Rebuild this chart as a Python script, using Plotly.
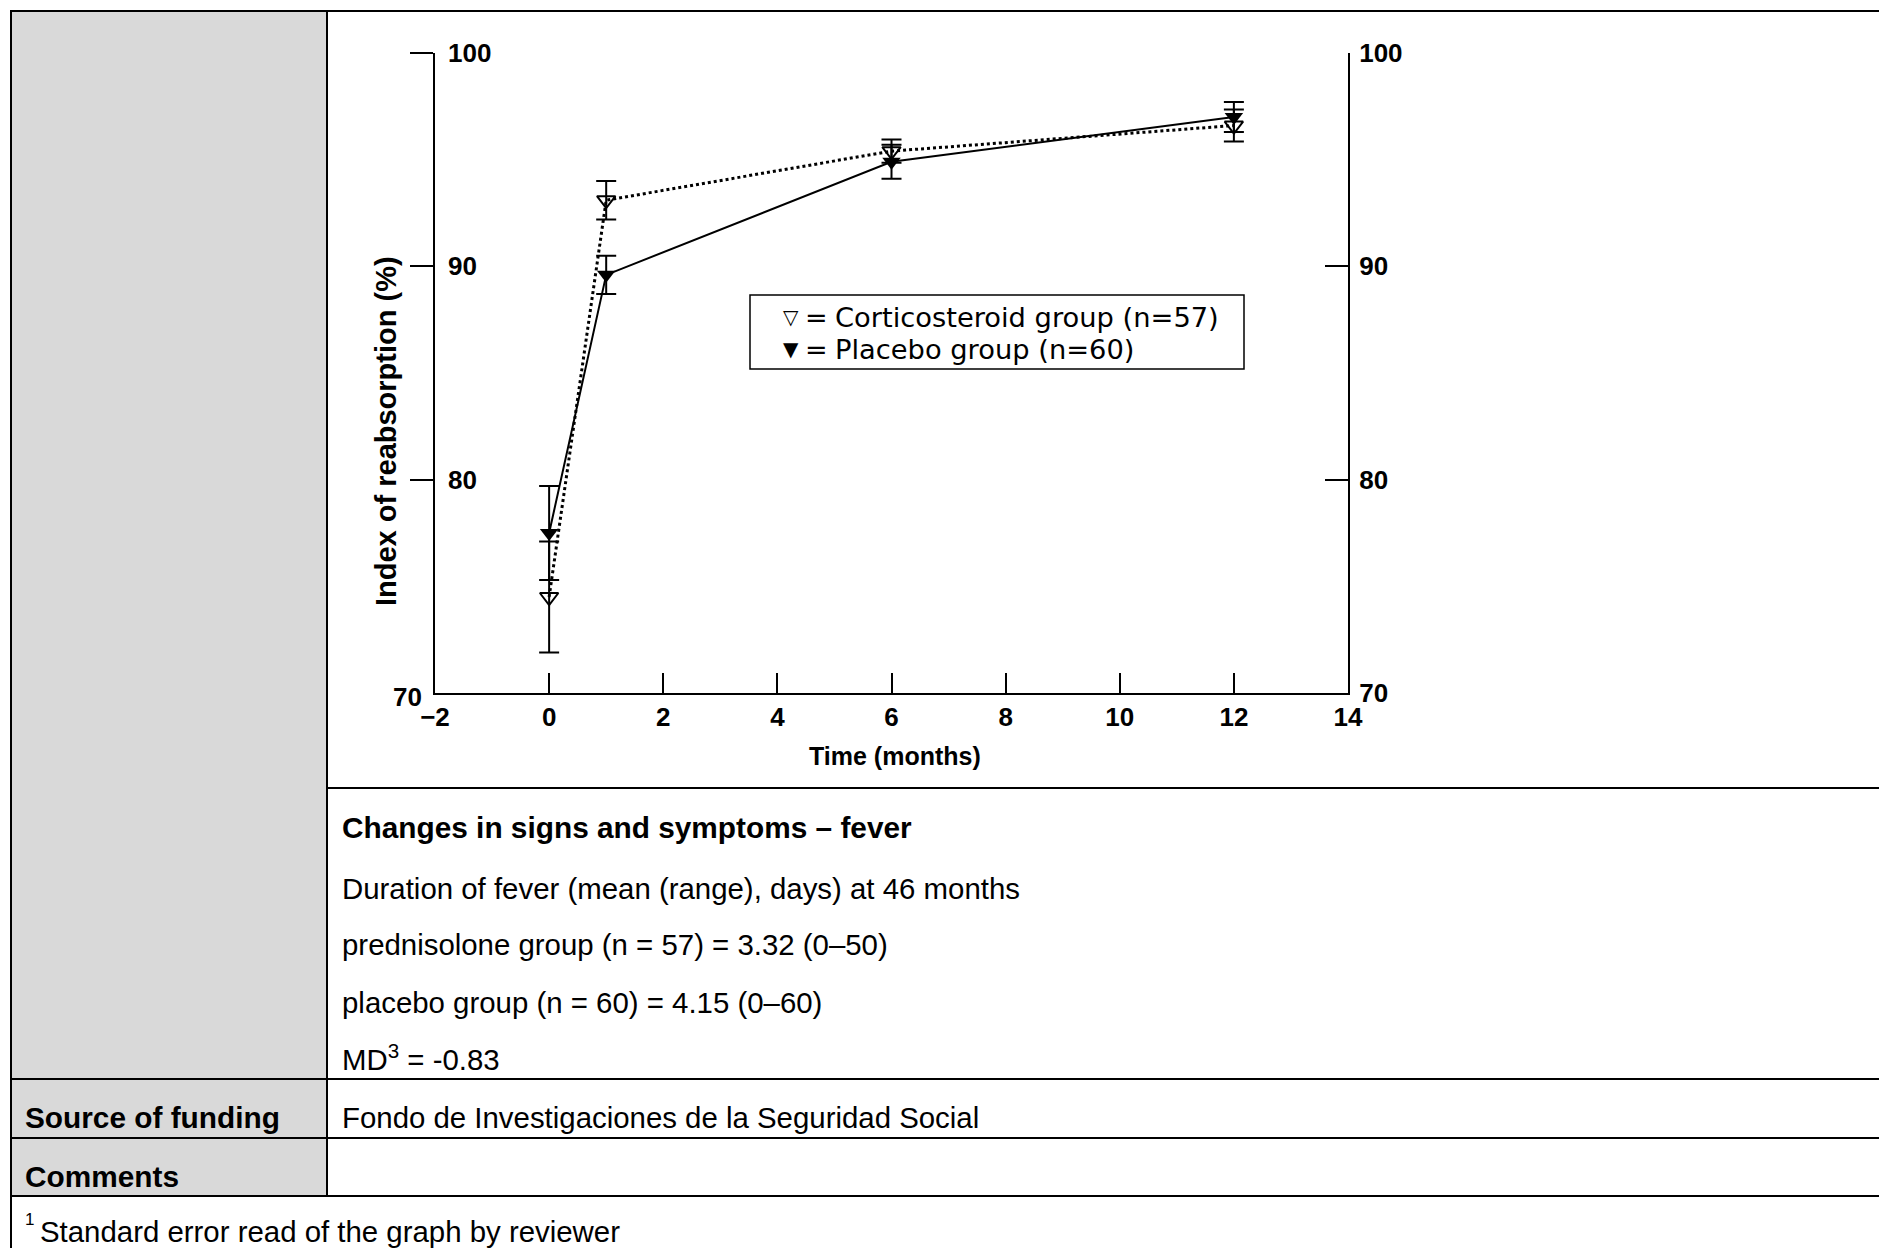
import plotly.graph_objects as go

W, H = 1879, 1248

# ---------------- data ----------------
months = [0, 1, 6, 12]
cortico_mean = [74.5, 93.1, 95.4, 96.6]
cortico_se = [2.6, 0.9, 0.55, 0.75]
placebo_mean = [77.5, 89.6, 94.9, 97.0]
placebo_se = [2.2, 0.9, 0.8, 0.7]
x_ticks = [-2, 0, 2, 4, 6, 8, 10, 12, 14]
y_ticks_left = [80, 90, 100]
y_ticks_right = [70, 80, 90, 100]

legend_labels = ["Corticosteroid group (n=57)", "Placebo group (n=60)"]
legend_symbols = ["▽", "▼"]

table_rows = [
    ("Changes in signs and symptoms – fever", True),
    ("Duration of fever (mean (range), days) at 46 months", False),
    ("prednisolone group (n = 57) = 3.32 (0–50)", False),
    ("placebo group (n = 60) = 4.15 (0–60)", False),
]
md_text = "MD<sup>3</sup> = -0.83"
funding_label = "Source of funding"
funding_text = "Fondo de Investigaciones de la Seguridad Social"
comments_label = "Comments"
footnote = "Standard error read of the graph by reviewer"

FONT = "Liberation Sans, Arial, Helvetica, sans-serif"
LEGFONT = "DejaVu Sans, Liberation Sans, sans-serif"


def px(x):
    return x / W


def py(y):
    return 1 - y / H


fig = go.Figure()

fig.add_trace(go.Scatter(
    x=months, y=cortico_mean, mode="lines+markers", name=legend_labels[0],
    line=dict(color="black", width=3, dash="dot"),
    marker=dict(symbol="triangle-down-open", size=16, color="black",
                line=dict(width=2, color="black")),
    error_y=dict(type="data", array=cortico_se, color="black", thickness=2, width=10),
    yaxis="y", hoverinfo="skip",
))
fig.add_trace(go.Scatter(
    x=months, y=placebo_mean, mode="lines+markers", name=legend_labels[1],
    line=dict(color="black", width=2),
    marker=dict(symbol="triangle-down", size=16, color="black"),
    error_y=dict(type="data", array=placebo_se, color="black", thickness=2, width=10),
    yaxis="y2", hoverinfo="skip",
))

TICK_SIZE = 26
tickfont = dict(family=FONT, size=TICK_SIZE, color="black", weight="bold")

fig.update_layout(
    width=W, height=H,
    margin=dict(l=0, r=0, t=0, b=0, pad=0, autoexpand=False),
    paper_bgcolor="white", plot_bgcolor="rgba(0,0,0,0)",
    showlegend=False,
    xaxis=dict(
        domain=[px(435), px(1348)], range=[-2, 14], tickvals=x_ticks,
        ticks="inside", ticklen=20, tickwidth=2, tickcolor="black",
        showline=True, linewidth=2, linecolor="black",
        showgrid=False, zeroline=False, tickfont=tickfont,
        anchor="y", fixedrange=True, automargin=False,
    ),
    yaxis=dict(
        domain=[py(693), py(53)], range=[70, 100], tickvals=y_ticks_left,
        ticks="outside", ticklen=23, tickwidth=2, tickcolor="black",
        showticklabels=False,
        showline=True, linewidth=2, linecolor="black",
        showgrid=False, zeroline=False,
        anchor="x", fixedrange=True, automargin=False,
    ),
    yaxis2=dict(
        overlaying="y", side="right", anchor="x", range=[70, 100],
        tickvals=y_ticks_right,
        ticks="inside", ticklen=23, tickwidth=2, tickcolor="black",
        ticklabelstandoff=4,
        showline=True, linewidth=2, linecolor="black",
        showgrid=False, zeroline=False, tickfont=tickfont, fixedrange=True,
        automargin=False,
    ),
)

# ---------------- table frame ----------------
LW = 2
shapes = [
    dict(type="rect", xref="paper", yref="paper", x0=px(11), x1=px(327), y0=py(1196), y1=py(11),
         fillcolor="#d9d9d9", line=dict(width=0), layer="below"),
]


def hline(x0, x1, y):
    return dict(type="line", xref="paper", yref="paper", x0=px(x0), x1=px(x1), y0=py(y), y1=py(y),
                line=dict(color="black", width=LW))


def vline(x, y0, y1):
    return dict(type="line", xref="paper", yref="paper", x0=px(x), x1=px(x), y0=py(y0), y1=py(y1),
                line=dict(color="black", width=LW))


shapes += [
    hline(10, W, 11),
    vline(11, 10, H),
    vline(327, 11, 1196),
    hline(327, W, 788),
    hline(10, W, 1079),
    hline(10, W, 1138),
    hline(10, W, 1196),
    # legend box
    dict(type="rect", xref="paper", yref="paper", x0=px(750), x1=px(1244), y0=py(369), y1=py(295),
         line=dict(color="black", width=1.5), fillcolor="rgba(0,0,0,0)"),
]
fig.update_layout(shapes=shapes)

ann = []


def text(x, y, s, size=28, bold=False, xanchor="left", yanchor="middle", angle=0, family=FONT):
    ann.append(dict(
        x=px(x), y=py(y), xref="paper", yref="paper", text=s, showarrow=False,
        xanchor=xanchor, yanchor=yanchor, textangle=angle,
        font=dict(family=family, size=size, color="black", weight="bold" if bold else "normal"),
    ))


# left-axis tick labels, placed by the y scale, to the right of the axis line
for v in y_ticks_left:
    ann.append(dict(
        x=px(446), y=v, xref="paper", yref="y", text=str(v), showarrow=False,
        xanchor="left", yanchor="middle",
        font=dict(family=FONT, size=TICK_SIZE, color="black", weight="bold"),
    ))
# the bottom "70" sits left of the corner
ann.append(dict(
    x=px(424), y=70, xref="paper", yref="y", yshift=-4, text="70", showarrow=False,
    xanchor="right", yanchor="middle",
    font=dict(family=FONT, size=TICK_SIZE, color="black", weight="bold"),
))

# axis titles
text(895, 756, "Time (months)", size=25, bold=True, xanchor="center")
text(386, 431, "Index of reabsorption (%)", size=29, bold=True, xanchor="center", angle=-90)

# legend
leg_y = [317, 349]
for sym, lab, yy in zip(legend_symbols, legend_labels, leg_y):
    text(791, yy, sym, size=20, xanchor="center", family=LEGFONT)
    text(816, yy, "=", size=27, xanchor="center", family=LEGFONT)
    text(833, yy, lab, size=27.3, family=LEGFONT)

# table texts
REG, BOLD = 29.4, 29.8
row_y = [827, 888, 944, 1002]
for (s, b), yy in zip(table_rows, row_y):
    text(340, yy, s, size=BOLD if b else REG, bold=b)
text(340, 1078, md_text, size=REG, yanchor="bottom")
text(23, 1117, funding_label, size=BOLD, bold=True)
text(340, 1117, funding_text, size=REG)
text(23, 1176, comments_label, size=BOLD, bold=True)
text(23, 1219, "1", size=17)
text(38, 1231, footnote, size=REG)

fig.update_layout(annotations=ann)

fig.write_html(
    "out.html",
    config={"displayModeBar": False, "responsive": False},
    post_script="document.body.style.margin='0';document.body.style.overflow='hidden';",
)
